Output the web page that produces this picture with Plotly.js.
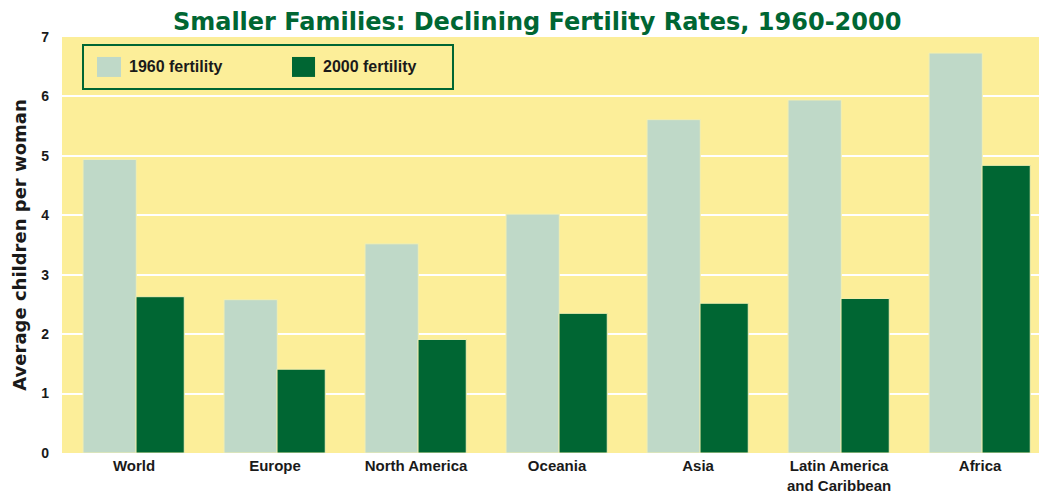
<!DOCTYPE html>
<html>
<head>
<meta charset="utf-8">
<script src="https://cdn.plot.ly/plotly-3.0.1.min.js"></script>
<style>html,body{margin:0;padding:0;background:#fff;}#chart{width:1039px;height:493px;}</style>
</head>
<body>
<div id="chart"></div>
<script>
const categories = ["World", "Europe", "North America", "Oceania", "Asia", "Latin America<br>and Caribbean", "Africa"];
const fertility1960 = [4.94, 2.58, 3.52, 4.02, 5.61, 5.94, 6.73];
const fertility2000 = [2.63, 1.41, 1.91, 2.35, 2.52, 2.60, 4.84];
const seriesNames = ["1960 fertility", "2000 fertility"];
const yTicks = [0, 1, 2, 3, 4, 5, 6, 7];

const lightGreen = "#BFD9C8";
const darkGreen = "#006633";
const yellow = "#FCEE99";
const outline = "#F3EFB0";

const traces = [
  {type: "bar", x: categories, y: fertility1960, name: seriesNames[0], showlegend: false,
   width: 0.378, offset: -0.362,
   marker: {color: lightGreen, line: {color: outline, width: 1}}, hoverinfo: "x+y"},
  {type: "bar", x: categories, y: fertility2000, name: seriesNames[1], showlegend: false,
   width: 0.342, offset: 0.014,
   marker: {color: darkGreen, line: {color: outline, width: 1}}, hoverinfo: "x+y"}
];

const tickFont = {family: "Liberation Sans Narrow, Liberation Sans, sans-serif", size: 15, color: "#1a1a1a", weight: "bold"};

// custom legend (paper coordinates)
const legX0 = 0.0215, legX1 = 0.4002, legY0 = 0.875, legY1 = 0.981;
const shapes = [
  {type: "rect", xref: "paper", yref: "paper", x0: legX0, x1: legX1, y0: legY0, y1: legY1,
   line: {color: darkGreen, width: 2}, fillcolor: "rgba(0,0,0,0)"},
  {type: "rect", xref: "paper", yref: "paper", x0: 0.0358, x1: 0.0604, y0: 0.904, y1: 0.952,
   line: {width: 0}, fillcolor: lightGreen},
  {type: "rect", xref: "paper", yref: "paper", x0: 0.2354, x1: 0.2590, y0: 0.904, y1: 0.952,
   line: {width: 0}, fillcolor: darkGreen}
];
const legFont = {family: "Liberation Sans, sans-serif", size: 16, color: "#1a1a1a", weight: "bold"};
const annotations = [
  {xref: "paper", yref: "paper", x: 0.0666, y: 0.928, xanchor: "left", yanchor: "middle",
   text: seriesNames[0], showarrow: false, font: legFont},
  {xref: "paper", yref: "paper", x: 0.2651, y: 0.928, xanchor: "left", yanchor: "middle",
   text: seriesNames[1], showarrow: false, font: legFont}
];

const layout = {
  width: 1039, height: 493,
  margin: {l: 62, r: 0, t: 37, b: 40, pad: 0},
  paper_bgcolor: "#ffffff",
  plot_bgcolor: yellow,
  barmode: "overlay",
  showlegend: false,
  title: {
    text: "Smaller Families: Declining Fertility Rates, 1960-2000",
    x: 0.517, xref: "container", xanchor: "center",
    y: 0.957, yref: "container", yanchor: "middle",
    font: {family: "DejaVu Sans, sans-serif", size: 24, color: darkGreen, weight: "bold"}
  },
  xaxis: {
    type: "category",
    range: [-0.511, 6.418],
    showgrid: false, zeroline: false, showline: false,
    ticks: "", tickfont: tickFont, ticklabelstandoff: 2,
    fixedrange: true
  },
  yaxis: {
    range: [0, 7],
    tickvals: yTicks,
    ticktext: yTicks.map(String),
    showgrid: true, gridcolor: "#ffffff", gridwidth: 2,
    zeroline: false, showline: false, ticks: "",
    tickfont: {family: "Liberation Sans Narrow, Liberation Sans, sans-serif", size: 14, color: "#1a1a1a", weight: "bold"},
    ticklabelstandoff: 12,
    title: {text: "Average children per woman", standoff: 9,
            font: {family: "DejaVu Sans, sans-serif", size: 18, color: "#1a1a1a", weight: "bold"}},
    fixedrange: true
  },
  shapes: shapes,
  annotations: annotations
};

Plotly.newPlot("chart", traces, layout, {displayModeBar: false, staticPlot: true});
</script>
</body>
</html>
